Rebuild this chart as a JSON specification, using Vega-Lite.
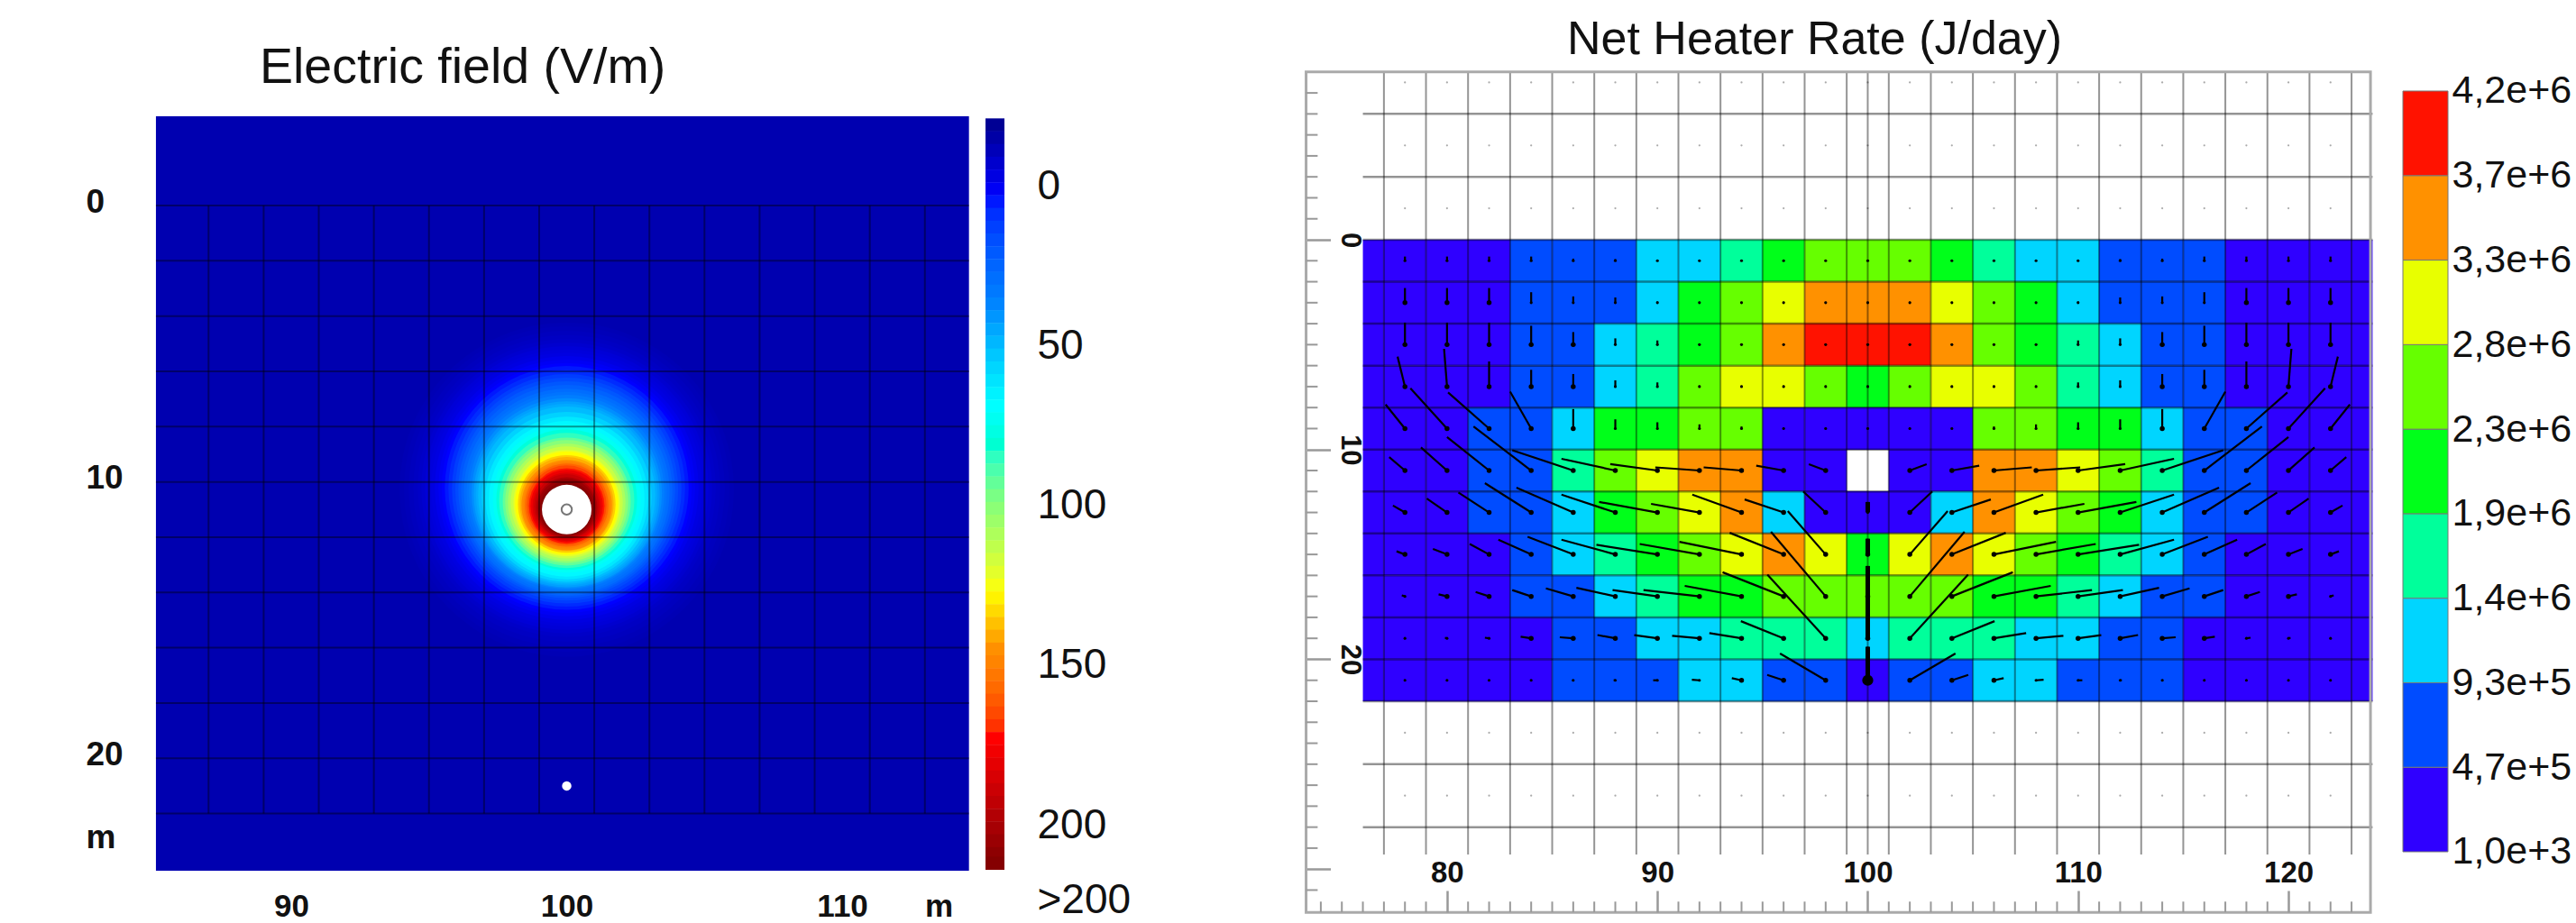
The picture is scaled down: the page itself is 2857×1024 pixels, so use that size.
{"$schema":"https://vega.github.io/schema/vega-lite/v6.json","padding":0,"background":"white","spacing":0,"bounds":"flush","config":{"view":{"stroke":null},"font":"Liberation Sans","axis":{"labelFont":"Liberation Sans","labelColor":"#111","labelOverlap":false,"labelFlush":false,"labelBound":false,"domain":false,"grid":false}},
"datasets":{
"rings":[{"x":100,"y":10.28,"radius":6.06,"field":-12},{"x":100,"y":10.26,"radius":5.9,"field":-11},{"x":100,"y":10.25,"radius":5.73,"field":-10},{"x":100,"y":10.24,"radius":5.56,"field":-9},{"x":100,"y":10.22,"radius":5.4,"field":-8},{"x":100,"y":10.22,"radius":5.27,"field":-6.5},{"x":100,"y":10.22,"radius":5.14,"field":-5},{"x":100,"y":10.22,"radius":5.02,"field":-4},{"x":100,"y":10.22,"radius":4.91,"field":-3},{"x":100,"y":10.22,"radius":4.78,"field":-1},{"x":100,"y":10.22,"radius":4.65,"field":1},{"x":100,"y":10.22,"radius":4.53,"field":3},{"x":100,"y":10.22,"radius":4.42,"field":5},{"x":100,"y":10.23,"radius":4.29,"field":8},{"x":100,"y":10.25,"radius":4.16,"field":12},{"x":100,"y":10.26,"radius":4.04,"field":16},{"x":100,"y":10.28,"radius":3.93,"field":20},{"x":100,"y":10.31,"radius":3.83,"field":24},{"x":100,"y":10.35,"radius":3.73,"field":28},{"x":100,"y":10.37,"radius":3.63,"field":31},{"x":100,"y":10.38,"radius":3.54,"field":35},{"x":100,"y":10.41,"radius":3.45,"field":39},{"x":100,"y":10.45,"radius":3.37,"field":43},{"x":100,"y":10.46,"radius":3.29,"field":46},{"x":100,"y":10.48,"radius":3.21,"field":50},{"x":100,"y":10.54,"radius":3.08,"field":56},{"x":100,"y":10.58,"radius":2.95,"field":62},{"x":100,"y":10.61,"radius":2.82,"field":67},{"x":100,"y":10.61,"radius":2.68,"field":72},{"x":100,"y":10.64,"radius":2.55,"field":79},{"x":100,"y":10.67,"radius":2.45,"field":85},{"x":100,"y":10.71,"radius":2.32,"field":93},{"x":100,"y":10.71,"radius":2.23,"field":100},{"x":100,"y":10.74,"radius":2.13,"field":108},{"x":100,"y":10.74,"radius":2.03,"field":115},{"x":100,"y":10.77,"radius":1.93,"field":122},{"x":100,"y":10.77,"radius":1.87,"field":127},{"x":100,"y":10.8,"radius":1.77,"field":135},{"x":100,"y":10.8,"radius":1.7,"field":140},{"x":100,"y":10.84,"radius":1.64,"field":146},{"x":100,"y":10.84,"radius":1.57,"field":150},{"x":100,"y":10.84,"radius":1.51,"field":158},{"x":100,"y":10.84,"radius":1.44,"field":165},{"x":100,"y":10.87,"radius":1.37,"field":172},{"x":100,"y":10.87,"radius":1.31,"field":178},{"x":100,"y":10.9,"radius":1.24,"field":184},{"x":100,"y":10.9,"radius":1.18,"field":190},{"x":100,"y":10.93,"radius":1.11,"field":198},{"x":100,"y":10.93,"radius":1.05,"field":205},{"x":100,"y":10.97,"radius":0.98,"field":210},{"x":100,"y":11,"radius":0.92,"field":214}],
"cells":[
{"x":78,"y":1,"rate":234000,"tx":78,"ty":0.8},{"x":80,"y":1,"rate":234000,"tx":80,"ty":0.8},{"x":82,"y":1,"rate":234000,"tx":82,"ty":0.8},{"x":84,"y":1,"rate":701000,"tx":84,"ty":0.8},{"x":86,"y":1,"rate":701000,"tx":86,"ty":0.9},{"x":88,"y":1,"rate":701000,"tx":88,"ty":0.92},{"x":90,"y":1,"rate":1170000,"tx":90,"ty":0.96},{"x":92,"y":1,"rate":1170000,"tx":92,"ty":0.96},{"x":94,"y":1,"rate":1630000,"tx":94,"ty":0.96},{"x":96,"y":1,"rate":2100000,"tx":96,"ty":0.96},{"x":98,"y":1,"rate":2570000,"tx":98,"ty":0.96},{"x":100,"y":1,"rate":2570000,"tx":100,"ty":0.96},{"x":102,"y":1,"rate":2570000,"tx":102,"ty":0.96},{"x":104,"y":1,"rate":2100000,"tx":104,"ty":0.96},{"x":106,"y":1,"rate":1630000,"tx":106,"ty":0.96},{"x":108,"y":1,"rate":1170000,"tx":108,"ty":0.96},{"x":110,"y":1,"rate":1170000,"tx":110,"ty":0.96},{"x":112,"y":1,"rate":701000,"tx":112,"ty":0.92},{"x":114,"y":1,"rate":701000,"tx":114,"ty":0.9},{"x":116,"y":1,"rate":701000,"tx":116,"ty":0.8},{"x":118,"y":1,"rate":234000,"tx":118,"ty":0.8},{"x":120,"y":1,"rate":234000,"tx":120,"ty":0.8},{"x":122,"y":1,"rate":234000,"tx":122,"ty":0.8},
{"x":78,"y":3,"rate":234000,"tx":78,"ty":2.3},{"x":80,"y":3,"rate":234000,"tx":80,"ty":2.3},{"x":82,"y":3,"rate":234000,"tx":82,"ty":2.3},{"x":84,"y":3,"rate":701000,"tx":84,"ty":2.5},{"x":86,"y":3,"rate":701000,"tx":86,"ty":2.7},{"x":88,"y":3,"rate":701000,"tx":88,"ty":2.75},{"x":90,"y":3,"rate":1170000,"tx":90,"ty":2.94},{"x":92,"y":3,"rate":2100000,"tx":92,"ty":2.95},{"x":94,"y":3,"rate":2570000,"tx":94,"ty":2.95},{"x":96,"y":3,"rate":3030000,"tx":96,"ty":2.95},{"x":98,"y":3,"rate":3500000,"tx":98,"ty":2.95},{"x":100,"y":3,"rate":3500000,"tx":100,"ty":2.95},{"x":102,"y":3,"rate":3500000,"tx":102,"ty":2.95},{"x":104,"y":3,"rate":3030000,"tx":104,"ty":2.95},{"x":106,"y":3,"rate":2570000,"tx":106,"ty":2.95},{"x":108,"y":3,"rate":2100000,"tx":108,"ty":2.95},{"x":110,"y":3,"rate":1170000,"tx":110,"ty":2.94},{"x":112,"y":3,"rate":701000,"tx":112,"ty":2.75},{"x":114,"y":3,"rate":701000,"tx":114,"ty":2.7},{"x":116,"y":3,"rate":701000,"tx":116,"ty":2.5},{"x":118,"y":3,"rate":234000,"tx":118,"ty":2.3},{"x":120,"y":3,"rate":234000,"tx":120,"ty":2.3},{"x":122,"y":3,"rate":234000,"tx":122,"ty":2.3},
{"x":78,"y":5,"rate":234000,"tx":78,"ty":3.95},{"x":80,"y":5,"rate":234000,"tx":80,"ty":3.95},{"x":82,"y":5,"rate":234000,"tx":82,"ty":3.95},{"x":84,"y":5,"rate":701000,"tx":84,"ty":4.1},{"x":86,"y":5,"rate":701000,"tx":86,"ty":4.4},{"x":88,"y":5,"rate":1170000,"tx":88,"ty":4.7},{"x":90,"y":5,"rate":1630000,"tx":90,"ty":4.8},{"x":92,"y":5,"rate":2100000,"tx":92,"ty":4.95},{"x":94,"y":5,"rate":2570000,"tx":94,"ty":4.95},{"x":96,"y":5,"rate":3500000,"tx":96,"ty":4.95},{"x":98,"y":5,"rate":3970000,"tx":98,"ty":4.95},{"x":100,"y":5,"rate":3970000,"tx":100,"ty":4.95},{"x":102,"y":5,"rate":3970000,"tx":102,"ty":4.95},{"x":104,"y":5,"rate":3500000,"tx":104,"ty":4.95},{"x":106,"y":5,"rate":2570000,"tx":106,"ty":4.95},{"x":108,"y":5,"rate":2100000,"tx":108,"ty":4.95},{"x":110,"y":5,"rate":1630000,"tx":110,"ty":4.8},{"x":112,"y":5,"rate":1170000,"tx":112,"ty":4.7},{"x":114,"y":5,"rate":701000,"tx":114,"ty":4.4},{"x":116,"y":5,"rate":701000,"tx":116,"ty":4.1},{"x":118,"y":5,"rate":234000,"tx":118,"ty":3.95},{"x":120,"y":5,"rate":234000,"tx":120,"ty":3.95},{"x":122,"y":5,"rate":234000,"tx":122,"ty":3.95},
{"x":78,"y":7,"rate":234000,"tx":77.65,"ty":5.57},{"x":80,"y":7,"rate":234000,"tx":79.86,"ty":5.2},{"x":82,"y":7,"rate":234000,"tx":82,"ty":5.8},{"x":84,"y":7,"rate":701000,"tx":84,"ty":6.2},{"x":86,"y":7,"rate":701000,"tx":86,"ty":6.4},{"x":88,"y":7,"rate":1170000,"tx":88,"ty":6.7},{"x":90,"y":7,"rate":1630000,"tx":90,"ty":6.8},{"x":92,"y":7,"rate":2570000,"tx":92,"ty":6.95},{"x":94,"y":7,"rate":3030000,"tx":94,"ty":6.95},{"x":96,"y":7,"rate":3030000,"tx":96,"ty":6.95},{"x":98,"y":7,"rate":2570000,"tx":98,"ty":6.95},{"x":100,"y":7,"rate":2100000,"tx":100,"ty":6.95},{"x":102,"y":7,"rate":2570000,"tx":102,"ty":6.95},{"x":104,"y":7,"rate":3030000,"tx":104,"ty":6.95},{"x":106,"y":7,"rate":3030000,"tx":106,"ty":6.95},{"x":108,"y":7,"rate":2570000,"tx":108,"ty":6.95},{"x":110,"y":7,"rate":1630000,"tx":110,"ty":6.8},{"x":112,"y":7,"rate":1170000,"tx":112,"ty":6.7},{"x":114,"y":7,"rate":701000,"tx":114,"ty":6.4},{"x":116,"y":7,"rate":701000,"tx":116,"ty":6.2},{"x":118,"y":7,"rate":234000,"tx":118,"ty":5.8},{"x":120,"y":7,"rate":234000,"tx":120.14,"ty":5.2},{"x":122,"y":7,"rate":234000,"tx":122.35,"ty":5.57},
{"x":78,"y":9,"rate":234000,"tx":77.08,"ty":7.85},{"x":80,"y":9,"rate":234000,"tx":78.26,"ty":7.08},{"x":82,"y":9,"rate":701000,"tx":80.05,"ty":7.28},{"x":84,"y":9,"rate":701000,"tx":83,"ty":7.24},{"x":86,"y":9,"rate":1170000,"tx":86,"ty":8.07},{"x":88,"y":9,"rate":2100000,"tx":88,"ty":8.56},{"x":90,"y":9,"rate":2100000,"tx":90,"ty":8.7},{"x":92,"y":9,"rate":2570000,"tx":92,"ty":8.8},{"x":94,"y":9,"rate":2570000,"tx":94,"ty":8.9},{"x":96,"y":9,"rate":234000,"tx":96,"ty":8.95},{"x":98,"y":9,"rate":234000,"tx":98,"ty":8.95},{"x":100,"y":9,"rate":234000,"tx":100,"ty":8.95},{"x":102,"y":9,"rate":234000,"tx":102,"ty":8.95},{"x":104,"y":9,"rate":234000,"tx":104,"ty":8.95},{"x":106,"y":9,"rate":2570000,"tx":106,"ty":8.9},{"x":108,"y":9,"rate":2570000,"tx":108,"ty":8.8},{"x":110,"y":9,"rate":2100000,"tx":110,"ty":8.7},{"x":112,"y":9,"rate":2100000,"tx":112,"ty":8.56},{"x":114,"y":9,"rate":1170000,"tx":114,"ty":8.07},{"x":116,"y":9,"rate":701000,"tx":117,"ty":7.24},{"x":118,"y":9,"rate":701000,"tx":119.95,"ty":7.28},{"x":120,"y":9,"rate":234000,"tx":121.74,"ty":7.08},{"x":122,"y":9,"rate":234000,"tx":122.92,"ty":7.85},
{"x":78,"y":11,"rate":234000,"tx":77.25,"ty":10.36},{"x":80,"y":11,"rate":234000,"tx":78.76,"ty":9.9},{"x":82,"y":11,"rate":701000,"tx":80,"ty":9.4},{"x":84,"y":11,"rate":701000,"tx":81.26,"ty":8.9},{"x":86,"y":11,"rate":1630000,"tx":83.1,"ty":10.03},{"x":88,"y":11,"rate":2570000,"tx":85.44,"ty":10.44},{"x":90,"y":11,"rate":3030000,"tx":87.76,"ty":10.69},{"x":92,"y":11,"rate":3500000,"tx":89.9,"ty":10.85},{"x":94,"y":11,"rate":3500000,"tx":92.2,"ty":10.85},{"x":96,"y":11,"rate":234000,"tx":94.7,"ty":10.77},{"x":98,"y":11,"rate":234000,"tx":97.2,"ty":10.7},{"x":102,"y":11,"rate":234000,"tx":102.8,"ty":10.7},{"x":104,"y":11,"rate":234000,"tx":105.3,"ty":10.77},{"x":106,"y":11,"rate":3500000,"tx":107.8,"ty":10.85},{"x":108,"y":11,"rate":3500000,"tx":110.1,"ty":10.85},{"x":110,"y":11,"rate":3030000,"tx":112.24,"ty":10.69},{"x":112,"y":11,"rate":2570000,"tx":114.56,"ty":10.44},{"x":114,"y":11,"rate":1630000,"tx":116.9,"ty":10.03},{"x":116,"y":11,"rate":701000,"tx":118.74,"ty":8.9},{"x":118,"y":11,"rate":701000,"tx":120,"ty":9.4},{"x":120,"y":11,"rate":234000,"tx":121.24,"ty":9.9},{"x":122,"y":11,"rate":234000,"tx":122.75,"ty":10.36},
{"x":78,"y":13,"rate":234000,"tx":77.43,"ty":12.67},{"x":80,"y":13,"rate":234000,"tx":79.04,"ty":12.34},{"x":82,"y":13,"rate":701000,"tx":80.54,"ty":12.05},{"x":84,"y":13,"rate":701000,"tx":81.8,"ty":11.6},{"x":86,"y":13,"rate":1170000,"tx":83.3,"ty":11.82},{"x":88,"y":13,"rate":2100000,"tx":85.44,"ty":12.15},{"x":90,"y":13,"rate":2570000,"tx":87.23,"ty":12.5},{"x":92,"y":13,"rate":3030000,"tx":89.7,"ty":12.59},{"x":94,"y":13,"rate":3500000,"tx":91.66,"ty":12.15},{"x":96,"y":13,"rate":1170000,"tx":94.15,"ty":12.38},{"x":98,"y":13,"rate":234000,"tx":96.93,"ty":12},{"x":100,"y":13,"rate":234000,"tx":100,"ty":12.5},{"x":102,"y":13,"rate":234000,"tx":103.07,"ty":12},{"x":104,"y":13,"rate":1170000,"tx":105.85,"ty":12.38},{"x":106,"y":13,"rate":3500000,"tx":108.34,"ty":12.15},{"x":108,"y":13,"rate":3030000,"tx":110.3,"ty":12.59},{"x":110,"y":13,"rate":2570000,"tx":112.77,"ty":12.5},{"x":112,"y":13,"rate":2100000,"tx":114.56,"ty":12.15},{"x":114,"y":13,"rate":1170000,"tx":116.7,"ty":11.82},{"x":116,"y":13,"rate":701000,"tx":118.2,"ty":11.6},{"x":118,"y":13,"rate":701000,"tx":119.46,"ty":12.05},{"x":120,"y":13,"rate":234000,"tx":120.96,"ty":12.34},{"x":122,"y":13,"rate":234000,"tx":122.57,"ty":12.67},
{"x":78,"y":15,"rate":234000,"tx":77.6,"ty":14.85},{"x":80,"y":15,"rate":234000,"tx":79.33,"ty":14.74},{"x":82,"y":15,"rate":234000,"tx":81.08,"ty":14.5},{"x":84,"y":15,"rate":701000,"tx":82.44,"ty":14.3},{"x":86,"y":15,"rate":1170000,"tx":83.83,"ty":14.16},{"x":88,"y":15,"rate":1630000,"tx":85.44,"ty":14.3},{"x":90,"y":15,"rate":2100000,"tx":87.1,"ty":14.54},{"x":92,"y":15,"rate":2570000,"tx":89.16,"ty":14.5},{"x":94,"y":15,"rate":3030000,"tx":91.05,"ty":14.4},{"x":96,"y":15,"rate":3500000,"tx":93.44,"ty":13.97},{"x":98,"y":15,"rate":3030000,"tx":96.2,"ty":12.93},{"x":100,"y":15,"rate":2100000,"tx":100,"ty":14.25},{"x":102,"y":15,"rate":3030000,"tx":103.8,"ty":12.93},{"x":104,"y":15,"rate":3500000,"tx":106.56,"ty":13.97},{"x":106,"y":15,"rate":3030000,"tx":108.95,"ty":14.4},{"x":108,"y":15,"rate":2570000,"tx":110.84,"ty":14.5},{"x":110,"y":15,"rate":2100000,"tx":112.9,"ty":14.54},{"x":112,"y":15,"rate":1630000,"tx":114.56,"ty":14.3},{"x":114,"y":15,"rate":1170000,"tx":116.17,"ty":14.16},{"x":116,"y":15,"rate":701000,"tx":117.56,"ty":14.3},{"x":118,"y":15,"rate":234000,"tx":118.92,"ty":14.5},{"x":120,"y":15,"rate":234000,"tx":120.67,"ty":14.74},{"x":122,"y":15,"rate":234000,"tx":122.4,"ty":14.85},
{"x":78,"y":17,"rate":234000,"tx":77.85,"ty":16.95},{"x":80,"y":17,"rate":234000,"tx":79.6,"ty":16.9},{"x":82,"y":17,"rate":234000,"tx":81.36,"ty":16.79},{"x":84,"y":17,"rate":701000,"tx":83.1,"ty":16.7},{"x":86,"y":17,"rate":701000,"tx":84.7,"ty":16.62},{"x":88,"y":17,"rate":1170000,"tx":86.15,"ty":16.59},{"x":90,"y":17,"rate":1630000,"tx":87.87,"ty":16.7},{"x":92,"y":17,"rate":2100000,"tx":89.34,"ty":16.7},{"x":94,"y":17,"rate":2100000,"tx":91.3,"ty":16.5},{"x":96,"y":17,"rate":2570000,"tx":93.1,"ty":15.85},{"x":98,"y":17,"rate":2570000,"tx":95.4,"ty":13.92},{"x":100,"y":17,"rate":2570000,"tx":100,"ty":15.55},{"x":102,"y":17,"rate":2570000,"tx":104.6,"ty":13.92},{"x":104,"y":17,"rate":2570000,"tx":106.9,"ty":15.85},{"x":106,"y":17,"rate":2100000,"tx":108.7,"ty":16.5},{"x":108,"y":17,"rate":2100000,"tx":110.66,"ty":16.7},{"x":110,"y":17,"rate":1630000,"tx":112.13,"ty":16.7},{"x":112,"y":17,"rate":1170000,"tx":113.85,"ty":16.59},{"x":114,"y":17,"rate":701000,"tx":115.3,"ty":16.62},{"x":116,"y":17,"rate":701000,"tx":116.9,"ty":16.7},{"x":118,"y":17,"rate":234000,"tx":118.64,"ty":16.79},{"x":120,"y":17,"rate":234000,"tx":120.4,"ty":16.9},{"x":122,"y":17,"rate":234000,"tx":122.15,"ty":16.95},
{"x":78,"y":19,"rate":234000,"tx":77.95,"ty":19},{"x":80,"y":19,"rate":234000,"tx":79.9,"ty":18.97},{"x":82,"y":19,"rate":234000,"tx":81.8,"ty":18.97},{"x":84,"y":19,"rate":234000,"tx":83.5,"ty":18.92},{"x":86,"y":19,"rate":701000,"tx":85.36,"ty":18.95},{"x":88,"y":19,"rate":701000,"tx":87.15,"ty":18.84},{"x":90,"y":19,"rate":1170000,"tx":88.9,"ty":18.85},{"x":92,"y":19,"rate":1170000,"tx":90.7,"ty":18.88},{"x":94,"y":19,"rate":1630000,"tx":92.47,"ty":18.75},{"x":96,"y":19,"rate":1630000,"tx":93.97,"ty":18.18},{"x":98,"y":19,"rate":1630000,"tx":95.23,"ty":15.96},{"x":100,"y":19,"rate":1170000,"tx":100,"ty":16.5},{"x":102,"y":19,"rate":1630000,"tx":104.77,"ty":15.96},{"x":104,"y":19,"rate":1630000,"tx":106.03,"ty":18.18},{"x":106,"y":19,"rate":1630000,"tx":107.53,"ty":18.75},{"x":108,"y":19,"rate":1170000,"tx":109.3,"ty":18.88},{"x":110,"y":19,"rate":1170000,"tx":111.1,"ty":18.85},{"x":112,"y":19,"rate":701000,"tx":112.85,"ty":18.84},{"x":114,"y":19,"rate":701000,"tx":114.64,"ty":18.95},{"x":116,"y":19,"rate":234000,"tx":116.5,"ty":18.92},{"x":118,"y":19,"rate":234000,"tx":118.2,"ty":18.97},{"x":120,"y":19,"rate":234000,"tx":120.1,"ty":18.97},{"x":122,"y":19,"rate":234000,"tx":122.05,"ty":19},
{"x":78,"y":21,"rate":234000,"tx":77.97,"ty":21},{"x":80,"y":21,"rate":234000,"tx":79.97,"ty":21},{"x":82,"y":21,"rate":234000,"tx":81.97,"ty":21},{"x":84,"y":21,"rate":234000,"tx":83.97,"ty":21},{"x":86,"y":21,"rate":701000,"tx":85.95,"ty":21},{"x":88,"y":21,"rate":701000,"tx":87.92,"ty":21},{"x":90,"y":21,"rate":701000,"tx":89.8,"ty":21},{"x":92,"y":21,"rate":1170000,"tx":91.64,"ty":20.97},{"x":94,"y":21,"rate":1170000,"tx":93.54,"ty":20.9},{"x":96,"y":21,"rate":701000,"tx":95.22,"ty":20.74},{"x":98,"y":21,"rate":701000,"tx":95.83,"ty":19.72},{"x":100,"y":21,"rate":234000,"tx":100,"ty":19.4},{"x":102,"y":21,"rate":701000,"tx":104.17,"ty":19.72},{"x":104,"y":21,"rate":701000,"tx":104.78,"ty":20.74},{"x":106,"y":21,"rate":1170000,"tx":106.46,"ty":20.9},{"x":108,"y":21,"rate":1170000,"tx":108.36,"ty":20.97},{"x":110,"y":21,"rate":701000,"tx":110.2,"ty":21},{"x":112,"y":21,"rate":701000,"tx":112.08,"ty":21},{"x":114,"y":21,"rate":701000,"tx":114.05,"ty":21},{"x":116,"y":21,"rate":234000,"tx":116.03,"ty":21},{"x":118,"y":21,"rate":234000,"tx":118.03,"ty":21},{"x":120,"y":21,"rate":234000,"tx":120.03,"ty":21},{"x":122,"y":21,"rate":234000,"tx":122.03,"ty":21}
],
"bar1":[{"v":-19},{"v":-15},{"v":-11},{"v":-7},{"v":-3},{"v":1},{"v":5},{"v":9},{"v":13},{"v":17},{"v":21},{"v":25},{"v":29},{"v":33},{"v":37},{"v":41},{"v":45},{"v":49},{"v":53},{"v":57},{"v":61},{"v":65},{"v":69},{"v":73},{"v":77},{"v":81},{"v":85},{"v":89},{"v":93},{"v":97},{"v":101},{"v":105},{"v":109},{"v":113},{"v":117},{"v":121},{"v":125},{"v":129},{"v":133},{"v":137},{"v":141},{"v":145},{"v":149},{"v":153},{"v":157},{"v":161},{"v":165},{"v":169},{"v":173},{"v":177},{"v":181},{"v":185},{"v":189},{"v":193},{"v":197},{"v":201},{"v":205},{"v":209},{"v":212}],
"bar2":[{"lo":1000,"hi":467555,"rate":234000},{"lo":467555,"hi":934111,"rate":701000},{"lo":934111,"hi":1400667,"rate":1170000},{"lo":1400667,"hi":1867222,"rate":1630000},{"lo":1867222,"hi":2333778,"rate":2100000},{"lo":2333778,"hi":2800333,"rate":2570000},{"lo":2800333,"hi":3266889,"rate":3030000},{"lo":3266889,"hi":3733444,"rate":3500000},{"lo":3733444,"hi":4200000,"rate":3970000}],
"gridV":[{"x":77},{"x":79},{"x":81},{"x":83},{"x":85},{"x":87},{"x":89},{"x":91},{"x":93},{"x":95},{"x":97},{"x":99},{"x":100},{"x":101},{"x":103},{"x":105},{"x":107},{"x":109},{"x":111},{"x":113},{"x":115},{"x":117},{"x":119},{"x":121},{"x":123}],
"gridH":[{"y":-6},{"y":-3},{"y":0},{"y":2},{"y":4},{"y":6},{"y":8},{"y":10},{"y":12},{"y":14},{"y":16},{"y":18},{"y":20},{"y":22},{"y":25},{"y":28}],
"edges":[{"x0":76,"x1":77,"rate":234000},{"x0":123,"x1":124,"rate":234000}],
"ticksX":[{"v":74},{"v":75},{"v":76},{"v":77},{"v":78},{"v":79},{"v":81},{"v":82},{"v":83},{"v":84},{"v":85},{"v":86},{"v":87},{"v":88},{"v":89},{"v":91},{"v":92},{"v":93},{"v":94},{"v":95},{"v":96},{"v":97},{"v":98},{"v":99},{"v":101},{"v":102},{"v":103},{"v":104},{"v":105},{"v":106},{"v":107},{"v":108},{"v":109},{"v":111},{"v":112},{"v":113},{"v":114},{"v":115},{"v":116},{"v":117},{"v":118},{"v":119},{"v":121},{"v":122},{"v":123}],
"ticksY":[{"v":-7},{"v":-6},{"v":-5},{"v":-4},{"v":-3},{"v":-2},{"v":-1},{"v":1},{"v":2},{"v":3},{"v":4},{"v":5},{"v":6},{"v":7},{"v":8},{"v":9},{"v":11},{"v":12},{"v":13},{"v":14},{"v":15},{"v":16},{"v":17},{"v":18},{"v":19},{"v":21},{"v":22},{"v":23},{"v":24},{"v":25},{"v":26},{"v":27},{"v":28},{"v":29},{"v":31}],
"dots":[{"x":78,"y":-7.5},{"x":80,"y":-7.5},{"x":82,"y":-7.5},{"x":84,"y":-7.5},{"x":86,"y":-7.5},{"x":88,"y":-7.5},{"x":90,"y":-7.5},{"x":92,"y":-7.5},{"x":94,"y":-7.5},{"x":96,"y":-7.5},{"x":98,"y":-7.5},{"x":100,"y":-7.5},{"x":102,"y":-7.5},{"x":104,"y":-7.5},{"x":106,"y":-7.5},{"x":108,"y":-7.5},{"x":110,"y":-7.5},{"x":112,"y":-7.5},{"x":114,"y":-7.5},{"x":116,"y":-7.5},{"x":118,"y":-7.5},{"x":120,"y":-7.5},{"x":122,"y":-7.5},{"x":78,"y":-4.5},{"x":80,"y":-4.5},{"x":82,"y":-4.5},{"x":84,"y":-4.5},{"x":86,"y":-4.5},{"x":88,"y":-4.5},{"x":90,"y":-4.5},{"x":92,"y":-4.5},{"x":94,"y":-4.5},{"x":96,"y":-4.5},{"x":98,"y":-4.5},{"x":100,"y":-4.5},{"x":102,"y":-4.5},{"x":104,"y":-4.5},{"x":106,"y":-4.5},{"x":108,"y":-4.5},{"x":110,"y":-4.5},{"x":112,"y":-4.5},{"x":114,"y":-4.5},{"x":116,"y":-4.5},{"x":118,"y":-4.5},{"x":120,"y":-4.5},{"x":122,"y":-4.5},{"x":78,"y":-1.5},{"x":80,"y":-1.5},{"x":82,"y":-1.5},{"x":84,"y":-1.5},{"x":86,"y":-1.5},{"x":88,"y":-1.5},{"x":90,"y":-1.5},{"x":92,"y":-1.5},{"x":94,"y":-1.5},{"x":96,"y":-1.5},{"x":98,"y":-1.5},{"x":100,"y":-1.5},{"x":102,"y":-1.5},{"x":104,"y":-1.5},{"x":106,"y":-1.5},{"x":108,"y":-1.5},{"x":110,"y":-1.5},{"x":112,"y":-1.5},{"x":114,"y":-1.5},{"x":116,"y":-1.5},{"x":118,"y":-1.5},{"x":120,"y":-1.5},{"x":122,"y":-1.5},{"x":78,"y":23.5},{"x":80,"y":23.5},{"x":82,"y":23.5},{"x":84,"y":23.5},{"x":86,"y":23.5},{"x":88,"y":23.5},{"x":90,"y":23.5},{"x":92,"y":23.5},{"x":94,"y":23.5},{"x":96,"y":23.5},{"x":98,"y":23.5},{"x":100,"y":23.5},{"x":102,"y":23.5},{"x":104,"y":23.5},{"x":106,"y":23.5},{"x":108,"y":23.5},{"x":110,"y":23.5},{"x":112,"y":23.5},{"x":114,"y":23.5},{"x":116,"y":23.5},{"x":118,"y":23.5},{"x":120,"y":23.5},{"x":122,"y":23.5},{"x":78,"y":26.5},{"x":80,"y":26.5},{"x":82,"y":26.5},{"x":84,"y":26.5},{"x":86,"y":26.5},{"x":88,"y":26.5},{"x":90,"y":26.5},{"x":92,"y":26.5},{"x":94,"y":26.5},{"x":96,"y":26.5},{"x":98,"y":26.5},{"x":100,"y":26.5},{"x":102,"y":26.5},{"x":104,"y":26.5},{"x":106,"y":26.5},{"x":108,"y":26.5},{"x":110,"y":26.5},{"x":112,"y":26.5},{"x":114,"y":26.5},{"x":116,"y":26.5},{"x":118,"y":26.5},{"x":120,"y":26.5},{"x":122,"y":26.5}],
"leftV":[{"x":87},{"x":89},{"x":91},{"x":93},{"x":95},{"x":97},{"x":99},{"x":101},{"x":103},{"x":105},{"x":107},{"x":109},{"x":111},{"x":113}],
"leftH":[{"y":0},{"y":2},{"y":4},{"y":6},{"y":8},{"y":10},{"y":12},{"y":14},{"y":16},{"y":18},{"y":20},{"y":22}],
"plotArea":[{"x0":85.09,"x1":114.6,"y0":-3.23,"y1":24.07,"field":-13}],
"frame":[{"x0":73.3,"x1":123.9,"y0":-8,"y1":32.06}],
"hot":[{"x":100,"y":11}],
"probe":[{"x":100,"y":21}]
},
"hconcat":[
{"width":1093,"height":1024,"title":{"text":"Electric field (V/m)","anchor":"start","frame":"group","dx":288,"offset":-130,"baseline":"middle","fontSize":55.5,"fontWeight":"normal","font":"Liberation Sans","color":"#111"},
"layer":[
{"data":{"name":"plotArea"},"mark":{"type":"rect"},"encoding":{
"x":{"field":"x0","type":"quantitative","title":null,"scale":{"domain":[79.43,115.2],"nice":false,"zero":false},"axis":{"orient":"bottom","offset":-58,"values":[90,100,110,113.5],"labelExpr":"datum.value==113.5?'m':datum.label","ticks":false,"labelPadding":39,"labelBaseline":"middle","labelFontSize":35,"labelFontWeight":"bold"}},
"x2":{"field":"x1"},
"y":{"field":"y0","type":"quantitative","title":null,"scale":{"domain":[25.96,-7.436],"nice":false,"zero":false},"axis":{"orient":"left","offset":-95,"values":[0,10,20,23],"labelExpr":"datum.value==23?'m':datum.label","ticks":false,"labelPadding":0,"labelAlign":"left","labelBaseline":"middle","labelOffset":-4,"labelFontSize":37,"labelFontWeight":"bold"}},
"y2":{"field":"y1"},
"color":{"field":"field","type":"quantitative","legend":null,"scale":{"domain":[-20,3,36,69,98,127,145,173,214],"range":["#00008f","#0000ff","#0080ff","#00ffff","#80ff80","#ffff00","#ff9000","#ff0000","#7f0000"],"clamp":true}}}},
{"data":{"name":"rings"},"mark":{"type":"point","filled":true,"opacity":1,"shape":"circle"},"encoding":{
"x":{"field":"x","type":"quantitative","title":null},"y":{"field":"y","type":"quantitative","title":null},
"size":{"field":"radius","type":"quantitative","legend":null,"scale":{"type":"pow","exponent":2,"domain":[0,8],"range":[0,239700]}},
"color":{"field":"field","type":"quantitative","legend":null}}},
{"data":{"name":"leftV"},"mark":{"type":"rule","color":"#000","opacity":0.4,"strokeWidth":2},"encoding":{"x":{"field":"x","type":"quantitative","title":null},"y":{"datum":0,"type":"quantitative","title":null},"y2":{"datum":22}}},
{"data":{"name":"leftH"},"mark":{"type":"rule","color":"#000","opacity":0.4,"strokeWidth":2},"encoding":{"y":{"field":"y","type":"quantitative","title":null},"x":{"datum":85.09,"type":"quantitative","title":null},"x2":{"datum":114.6}}},
{"data":{"name":"hot"},"mark":{"type":"point","filled":true,"color":"#fff","opacity":1,"size":3025},"encoding":{"x":{"field":"x","type":"quantitative","title":null},"y":{"field":"y","type":"quantitative","title":null}}},
{"data":{"name":"hot"},"mark":{"type":"point","filled":false,"color":"#777","opacity":1,"size":130,"strokeWidth":2},"encoding":{"x":{"field":"x","type":"quantitative","title":null},"y":{"field":"y","type":"quantitative","title":null}}},
{"data":{"name":"probe"},"mark":{"type":"point","filled":true,"color":"#fff","opacity":1,"size":110},"encoding":{"x":{"field":"x","type":"quantitative","title":null},"y":{"field":"y","type":"quantitative","title":null}}}
]},
{"width":21,"height":1024,"data":{"name":"bar1"},"mark":{"type":"rect","height":14.6},"encoding":{
"y":{"field":"v","type":"quantitative","title":null,"scale":{"domain":[230.7,-58.1],"nice":false,"zero":false},"axis":{"orient":"right","values":[0,50,100,150,200,223.4],"labelExpr":"datum.value==223.4?'>200':(datum.value==50?'\u00a050':datum.label)","ticks":false,"labelPadding":36,"labelFontSize":46,"labelBaseline":"middle","labelAlign":"left"}},
"color":{"field":"v","type":"quantitative","legend":null,"scale":{"domain":[-20,3,36,69,98,127,145,173,214],"range":["#00008f","#0000ff","#0080ff","#00ffff","#80ff80","#ffff00","#ff9000","#ff0000","#7f0000"],"clamp":true}}}},
{"width":1551,"height":1024,"title":{"text":"Net Heater Rate (J/day)","anchor":"start","frame":"group","dx":624,"offset":-96,"baseline":"middle","fontSize":52,"fontWeight":"normal","font":"Liberation Sans","color":"#111"},
"layer":[
{"data":{"name":"cells"},"mark":{"type":"rect","width":47,"height":47},"encoding":{
"x":{"field":"x","type":"quantitative","title":null,"scale":{"domain":[58.96,125.44],"nice":false,"zero":false},"axis":{"orient":"bottom","offset":-12,"zindex":1,"values":[80,90,100,110,120],"tickSize":-24,"tickColor":"#999","tickWidth":2.5,"labelPadding":-36,"labelFontSize":33,"labelFontWeight":"bold"}},
"y":{"field":"y","type":"quantitative","title":null,"scale":{"domain":[32.57,-11.43],"nice":false,"zero":false},"axis":{"orient":"left","offset":-335.5,"zindex":1,"values":[0,10,20,30],"labelExpr":"datum.value==30?'':datum.label","tickSize":-26,"tickColor":"#999","tickWidth":2.5,"labelPadding":-20.5,"labelAngle":90,"labelAlign":"center","labelBaseline":"middle","labelFontSize":31,"labelFontWeight":"bold"}},
"color":{"field":"rate","type":"quantitative","legend":null,"scale":{"type":"threshold","domain":[467555,934111,1400667,1867222,2333778,2800333,3266889,3733444],"range":["#2f00ff","#004cff","#00d5ff","#00ff9b","#00ff1a","#66ff00","#e8ff00","#ff9100","#ff1200"]}}}},
{"data":{"name":"edges"},"mark":{"type":"rect","color":"#2f00ff"},"encoding":{"x":{"field":"x0","type":"quantitative","title":null},"x2":{"field":"x1"},"y":{"datum":0,"type":"quantitative","title":null},"y2":{"datum":22}}},
{"data":{"name":"dots"},"mark":{"type":"point","filled":true,"color":"#aaa","size":5,"opacity":1},"encoding":{"x":{"field":"x","type":"quantitative","title":null},"y":{"field":"y","type":"quantitative","title":null}}},
{"data":{"name":"gridV"},"mark":{"type":"rule","color":"#000","opacity":0.42,"strokeWidth":2},"encoding":{"x":{"field":"x","type":"quantitative","title":null},"y":{"datum":-8,"type":"quantitative","title":null},"y2":{"datum":29.3}}},
{"data":{"name":"gridH"},"mark":{"type":"rule","color":"#000","opacity":0.42,"strokeWidth":2.5},"encoding":{"y":{"field":"y","type":"quantitative","title":null},"x":{"datum":76,"type":"quantitative","title":null},"x2":{"datum":124}}},
{"data":{"name":"cells"},"mark":{"type":"rule","color":"#000","strokeWidth":2.2},"encoding":{"x":{"field":"x","type":"quantitative","title":null},"y":{"field":"y","type":"quantitative","title":null},"x2":{"field":"tx"},"y2":{"field":"ty"}}},
{"data":{"name":"cells"},"mark":{"type":"point","filled":true,"color":"#000","opacity":1,"size":10},"encoding":{"x":{"field":"x","type":"quantitative","title":null},"y":{"field":"y","type":"quantitative","title":null}}},
{"data":{"name":"cells"},"transform":[{"filter":"abs(datum.tx-datum.x)+abs(datum.ty-datum.y)>0.5"}],"mark":{"type":"point","filled":true,"color":"#000","opacity":1,"size":30},"encoding":{"x":{"field":"x","type":"quantitative","title":null},"y":{"field":"y","type":"quantitative","title":null}}},
{"data":{"name":"cells"},"transform":[{"filter":"datum.x==100 && datum.y>=13"}],"mark":{"type":"rule","color":"#000","strokeWidth":5},"encoding":{"x":{"field":"x","type":"quantitative","title":null},"y":{"field":"y","type":"quantitative","title":null},"x2":{"field":"tx"},"y2":{"field":"ty"}}},
{"data":{"name":"probe"},"mark":{"type":"point","filled":true,"color":"#000","opacity":1,"size":150},"encoding":{"x":{"field":"x","type":"quantitative","title":null},"y":{"field":"y","type":"quantitative","title":null}}},
{"data":{"name":"frame"},"mark":{"type":"rect","fillOpacity":0,"stroke":"#aaa","strokeWidth":3},"encoding":{"x":{"field":"x0","type":"quantitative","title":null},"x2":{"field":"x1"},"y":{"field":"y0","type":"quantitative","title":null},"y2":{"field":"y1"}}},
{"data":{"name":"ticksX"},"mark":{"type":"rule","color":"#999","strokeWidth":2},"encoding":{"x":{"field":"v","type":"quantitative","title":null},"y":{"datum":32.06,"type":"quantitative","title":null},"y2":{"datum":31.55}}},
{"data":{"name":"ticksY"},"mark":{"type":"rule","color":"#999","strokeWidth":2},"encoding":{"y":{"field":"v","type":"quantitative","title":null},"x":{"datum":73.3,"type":"quantitative","title":null},"x2":{"datum":73.85}}}
]},
{"width":50,"height":1024,"data":{"name":"bar2"},"mark":{"type":"rect","stroke":"#777","strokeWidth":1},"encoding":{
"y":{"field":"lo","type":"quantitative","title":null,"scale":{"domain":[-392036,4702485],"nice":false,"zero":false},"axis":{"orient":"right","values":[1000,467555,934111,1400667,1867222,2333778,2800333,3266889,3733444,4200000],"labelExpr":"replace(format(datum.value,'.1e'),'.',',')","ticks":false,"labelPadding":4,"labelFontSize":43,"labelBaseline":"middle","labelAlign":"left"}},
"y2":{"field":"hi"},
"color":{"field":"rate","type":"quantitative","legend":null,"scale":{"type":"threshold","domain":[467555,934111,1400667,1867222,2333778,2800333,3266889,3733444],"range":["#2f00ff","#004cff","#00d5ff","#00ff9b","#00ff1a","#66ff00","#e8ff00","#ff9100","#ff1200"]}}}}
]}
